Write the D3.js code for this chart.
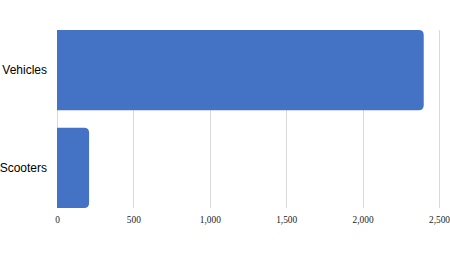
<!DOCTYPE html>
<html>
<head>
<meta charset="utf-8">
<script src="https://cdnjs.cloudflare.com/ajax/libs/d3/7.8.5/d3.min.js"></script>
<style>
  body { margin: 0; background: #fff; }
  .grid line { stroke: #d9d9d9; stroke-width: 1; }
  .x.axis text { font-family: "Liberation Serif", "Times New Roman", serif; font-size: 9.4px; fill: #222; }
  .y.axis text { font-family: "Liberation Sans", Arial, sans-serif; font-size: 12px; fill: #000; }
  .axis path, .axis line { display: none; }
</style>
</head>
<body>
<div id="chart"></div>
<script>
(function () {
    "use strict";

    var categories = ["Vehicles", "Scooters"],
        values = [2400, 210],
        ticks = [0, 500, 1000, 1500, 2000, 2500],

        margin = {top: 30, right: 11, bottom: 64, left: 57},
        widthGlobal = 450,
        heightGlobal = 272,
        width = 439 - margin.left,
        height = heightGlobal - margin.top - margin.bottom,

        x = d3.scaleLinear()
        .domain([0, 2500])
        .range([0, width]),

        y = d3.scaleBand()
        .domain(categories)
        .range([0, height])
        .paddingInner(0.18)
        .paddingOuter(0),

        svg = d3.select("#chart").append("svg")
        .attr("width", widthGlobal)
        .attr("height", heightGlobal)
        .append("g")
        .attr("transform", "translate(" + margin.left + "," + margin.top + ")");

    svg.append("g").attr("class", "grid").selectAll("line")
        .data(ticks)
        .enter().append("line")
        .attr("x1", function (d) { return Math.round(x(d)) + 0.5; })
        .attr("x2", function (d) { return Math.round(x(d)) + 0.5; })
        .attr("y1", 0)
        .attr("y2", height);

    // barres arrondies à droite seulement
    var r = 5;
    svg.append("g").selectAll("path")
        .data(categories)
        .enter().append("path")
        .attr("fill", "#4472c4")
        .attr("d", function (d, i) {
            var x0 = x(0), x1 = x(values[i]), y0 = y(d), h = y.bandwidth();
            return "M" + x0 + "," + y0 +
                "H" + (x1 - r) +
                "Q" + x1 + "," + y0 + " " + x1 + "," + (y0 + r) +
                "V" + (y0 + h - r) +
                "Q" + x1 + "," + (y0 + h) + " " + (x1 - r) + "," + (y0 + h) +
                "H" + x0 + "Z";
        });

    svg.append("g")
        .attr("class", "x axis")
        .attr("transform", "translate(0," + height + ")")
        .call(d3.axisBottom(x).tickValues(ticks).tickSize(0).tickPadding(8).tickFormat(d3.format(",")));

    svg.append("g")
        .attr("class", "y axis")
        .call(d3.axisLeft(y).tickSize(0).tickPadding(10));
}());
</script>
</body>
</html>
